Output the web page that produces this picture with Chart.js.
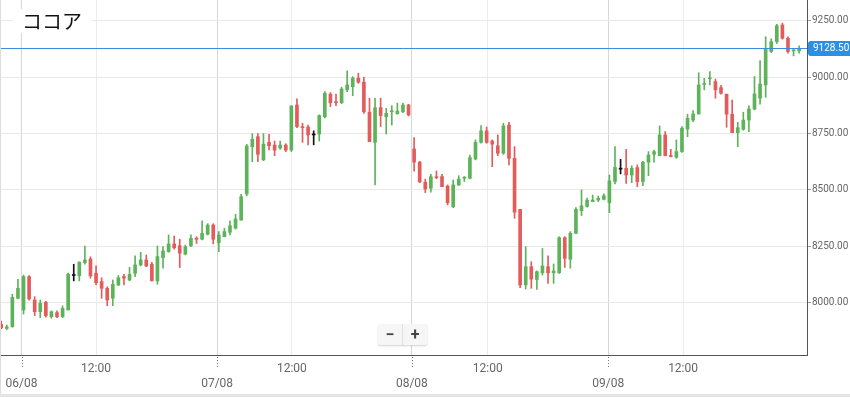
<!DOCTYPE html>
<html>
<head>
<meta charset="utf-8">
<script src="https://cdn.jsdelivr.net/npm/chart.js@4.4.0/dist/chart.umd.min.js"></script>
<style>
  html, body { margin: 0; padding: 0; background: #fff; }
  #wrap { position: relative; width: 850px; height: 397px; overflow: hidden; }
  #wrap canvas { position: absolute; left: 0; top: 0; }
  .frame { position: absolute; left: 0; top: 0; width: 1px; height: 397px; background: #dcdcdc; }
  .foot { position: absolute; left: 0; bottom: 0; width: 850px; height: 3px; background: #e4e4e4; }
  .title {
    position: absolute; left: 13px; top: 9px; padding: 0 10px 0 9px;
    background: #fff; color: #111; font: 20px/24px "Noto Sans CJK JP", sans-serif;
  }
  .zoom {
    position: absolute; left: 378px; top: 324px; height: 21px; display: flex;
    background: #f6f6f6; border-radius: 2px; box-shadow: 0 1px 2px rgba(0,0,0,0.18);
  }
  .zoom span {
    width: 24px; text-align: center; font: bold 16px/21px Roboto, sans-serif; color: #444;
  }
  .zoom span:first-child { border-right: 1px solid #e0e0e0; }
</style>
</head>
<body>
<div id="wrap">
  <canvas id="cocoa" width="850" height="397"></canvas>
  <div class="frame"></div>
  <div class="foot"></div>
  <div class="title">ココア</div>
  <div class="zoom"><span>−</span><span>+</span></div>
</div>
<script>
// ─── data ───
const open = [
  7903, 7885, 7893, 8019, 7967, 8115, 8011, 7959, 8001, 7937, 7955, 7937, 7967, 8120, 8119, 8177,
  8193, 8130, 8093, 8063, 8019, 8078, 8115, 8100, 8130, 8167, 8189, 8170, 8096, 8199, 8226, 8260,
  8252, 8215, 8252, 8285, 8281, 8303, 8344, 8266, 8292, 8312, 8330, 8366, 8482, 8692, 8736, 8633,
  8711, 8699, 8685, 8699, 8677, 8877, 8781, 8779, 8744, 8748, 8825, 8925, 8891, 8887, 8944, 8958,
  8996, 8978, 8845, 8711, 8865, 8825, 8847, 8838, 8847, 8877, 8682, 8623, 8534, 8507, 8558, 8559,
  8517, 8425, 8522, 8552, 8552, 8637, 8711, 8762, 8717, 8696, 8663, 8788, 8640, 8414, 8078, 8159,
  8102, 8132, 8159, 8132, 8132, 8288, 8192, 8307, 8408, 8426, 8448, 8455, 8458, 8443, 8537, 8592,
  8596, 8566, 8599, 8537, 8623, 8658, 8652, 8744, 8652, 8645, 8670, 8770, 8810, 8837, 8968, 8993,
  8981, 8954, 8925, 8836, 8754, 8769, 8810, 8859, 8907, 8966, 9114, 9158, 9232, 9173, 9117, 9117
];
const high = [
  7918, 7900, 8037, 8103, 8122, 8120, 8026, 8011, 8005, 7963, 7963, 7985, 8131, 8170, 8181, 8251,
  8203, 8163, 8110, 8070, 8100, 8120, 8125, 8156, 8207, 8223, 8211, 8178, 8251, 8248, 8300, 8295,
  8281, 8255, 8300, 8292, 8363, 8350, 8350, 8315, 8330, 8363, 8392, 8480, 8702, 8750, 8750, 8750,
  8747, 8717, 8717, 8705, 8873, 8904, 8796, 8788, 8762, 8833, 8936, 8932, 8925, 8956, 9028, 9003,
  9018, 9000, 8907, 8907, 8907, 8862, 8874, 8885, 8885, 8880, 8732, 8627, 8548, 8569, 8584, 8569,
  8522, 8544, 8563, 8559, 8654, 8722, 8785, 8779, 8722, 8744, 8796, 8800, 8692, 8414, 8248, 8181,
  8141, 8240, 8207, 8171, 8292, 8292, 8315, 8422, 8500, 8464, 8477, 8473, 8482, 8566, 8692, 8636,
  8680, 8607, 8611, 8627, 8670, 8677, 8784, 8759, 8680, 8722, 8781, 8836, 8852, 9020, 8995, 9025,
  8992, 8964, 8925, 8899, 8800, 8845, 8873, 9003, 9074, 9180, 9171, 9235, 9240, 9180, 9124, 9139
];
const low = [
  7883, 7880, 7890, 8016, 7949, 8010, 7942, 7933, 7935, 7930, 7933, 7933, 7967, 8096, 8096, 8170,
  8108, 8078, 8019, 7986, 7986, 8075, 8078, 8097, 8115, 8163, 8159, 8095, 8081, 8152, 8223, 8237,
  8155, 8211, 8248, 8262, 8278, 8300, 8260, 8226, 8292, 8300, 8326, 8366, 8473, 8625, 8625, 8630,
  8677, 8652, 8680, 8670, 8670, 8776, 8711, 8700, 8700, 8717, 8819, 8870, 8874, 8883, 8936, 8918,
  8973, 8840, 8714, 8522, 8781, 8748, 8788, 8836, 8843, 8828, 8583, 8532, 8488, 8490, 8549, 8514,
  8433, 8421, 8519, 8537, 8549, 8633, 8707, 8707, 8603, 8652, 8658, 8611, 8374, 8066, 8060, 8063,
  8058, 8122, 8085, 8085, 8129, 8156, 8152, 8307, 8386, 8423, 8448, 8448, 8455, 8399, 8526, 8571,
  8529, 8532, 8514, 8519, 8563, 8623, 8651, 8651, 8646, 8640, 8666, 8736, 8803, 8837, 8944, 8966,
  8907, 8925, 8778, 8754, 8692, 8765, 8758, 8855, 8881, 8911, 9110, 9150, 9169, 9107, 9095, 9107
];
const close = [
  7887, 7892, 8023, 8063, 8115, 8016, 7959, 7997, 7942, 7959, 7937, 7974, 8125, 8120, 8179, 8189,
  8118, 8088, 8063, 8011, 8081, 8110, 8108, 8125, 8167, 8189, 8162, 8097, 8204, 8229, 8260, 8243,
  8219, 8248, 8285, 8281, 8307, 8344, 8281, 8300, 8315, 8341, 8371, 8470, 8695, 8725, 8658, 8703,
  8696, 8677, 8699, 8677, 8873, 8781, 8776, 8744, 8744, 8830, 8929, 8887, 8887, 8948, 8966, 8996,
  8978, 8847, 8714, 8865, 8830, 8840, 8851, 8850, 8877, 8833, 8623, 8536, 8504, 8559, 8554, 8514,
  8443, 8522, 8548, 8556, 8643, 8711, 8762, 8711, 8703, 8663, 8784, 8640, 8401, 8078, 8159, 8104,
  8137, 8162, 8132, 8140, 8288, 8196, 8307, 8414, 8429, 8455, 8455, 8463, 8474, 8540, 8600, 8592,
  8566, 8596, 8537, 8623, 8655, 8670, 8744, 8652, 8648, 8670, 8774, 8818, 8837, 8966, 8970, 8996,
  8944, 8929, 8836, 8754, 8776, 8810, 8859, 8926, 8970, 9124, 9158, 9229, 9173, 9114, 9121, 9128.5
];

// x-axis ticks, in candle units
const dayTicks = [3.64, 38.7, 73.6, 108.8];
const dayLabels = ['06/08', '07/08', '08/08', '09/08'];
const noonTicks = [17.0, 52.1, 87.2, 122.2];
const priceTicks = [8000, 8250, 8500, 8750, 9000, 9250];
const lastPrice = close[close.length - 1];

const UP = '#5db35a';
const DOWN = '#e45b5b';
const FLAT = '#111';

const idx = close.map((_, i) => i);
const colors = idx.map(i => close[i] > open[i] ? UP : (close[i] < open[i] ? DOWN : FLAT));
const isDay = v => dayTicks.includes(v);

Chart.defaults.font.family = "Roboto, 'Liberation Sans', sans-serif";

// last price line + tag, dotted day marks under the axis
const overlay = {
    id: 'overlay',
    afterDraw(chart) {
        const { ctx, chartArea: a, scales: { x, y } } = chart;
        ctx.save();

        ctx.strokeStyle = '#777';
        ctx.lineWidth = 1;
        ctx.setLineDash([1, 2]);
        dayTicks.forEach(v => {
            const px = Math.round(x.getPixelForValue(v)) + 0.5;
            ctx.beginPath();
            ctx.moveTo(px, a.bottom + 2);
            ctx.lineTo(px, a.bottom + 14);
            ctx.stroke();
        });
        ctx.setLineDash([]);

        // price line goes over the candles
        const py = Math.round(y.getPixelForValue(lastPrice));
        ctx.strokeStyle = '#3a8edb';
        ctx.beginPath();
        ctx.moveTo(a.left, py + 0.5);
        ctx.lineTo(a.right, py + 0.5);
        ctx.stroke();

        const tx = a.right + 1, th = 15;
        ctx.fillStyle = '#2b8fe6';
        ctx.beginPath();
        ctx.roundRect(tx, py - 7, 850 - tx + 4, th, 3);
        ctx.fill();
        ctx.fillStyle = '#fff';
        ctx.font = "10px Roboto, sans-serif";
        ctx.textBaseline = 'middle';
        ctx.textAlign = 'left';
        ctx.fillText(lastPrice.toFixed(2), tx + 5, py + 0.5);
        ctx.restore();
    }
};

new Chart(document.getElementById('cocoa'), {
    type: 'bar',
    data: {
        datasets: [{
            label: 'body',
            data: idx.map(i => ({ x: i, y: [open[i], close[i]] })),
            backgroundColor: colors,
            borderWidth: 0,
            barThickness: 3,
            minBarLength: 1,
            grouped: false
        }, {
            label: 'wick',
            data: idx.map(i => ({ x: i, y: [low[i], high[i]] })),
            backgroundColor: colors,
            borderWidth: 0,
            barThickness: 1,
            grouped: false
        }]
    },
    options: {
        responsive: false,
        animation: false,
        layout: { padding: 0 },
        plugins: {
            legend: { display: false },
            tooltip: { enabled: false }
        },
        scales: {
            x: {
                type: 'linear',
                min: -0.215,
                max: 144.41,
                offset: false,
                grid: {
                    offset: false,
                    drawTicks: false,
                    color: c => (c.tick && isDay(c.tick.value)) ? '#d6d6d6' : '#ececec'
                },
                border: { display: true, color: '#555' },
                ticks: {
                    autoSkip: false,
                    maxRotation: 0,
                    padding: 7,
                    color: '#666',
                    font: { size: 12 },
                    callback: v => {
                        const d = dayTicks.indexOf(v);
                        return d >= 0 ? ['', dayLabels[d]] : '12:00';
                    }
                },
                afterBuildTicks: s => {
                    s.ticks = dayTicks.concat(noonTicks).sort((a, b) => a - b).map(v => ({ value: v }));
                },
                afterFit: s => {
                    s.height = 42;
                    s.paddingLeft = 0;
                    s.paddingRight = 0;
                }
            },
            y: {
                position: 'right',
                min: 7767,
                max: 9343,
                beginAtZero: false,
                grid: { color: '#e9e9e9', tickLength: 4, tickColor: '#999' },
                border: { display: true, color: '#555' },
                ticks: {
                    padding: 1,
                    color: '#666',
                    font: { size: 10 },
                    callback: v => v.toFixed(2)
                },
                afterBuildTicks: s => {
                    s.ticks = priceTicks.map(v => ({ value: v }));
                },
                afterFit: s => {
                    s.width = 43;
                    s.paddingTop = 0;
                    s.paddingBottom = 0;
                }
            }
        }
    },
    plugins: [overlay]
});
</script>
</body>
</html>
